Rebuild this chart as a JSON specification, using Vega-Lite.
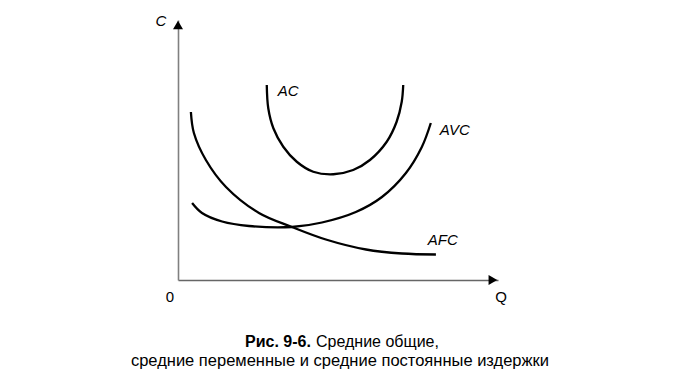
{
  "$schema": "https://vega.github.io/schema/vega-lite/v6.json",
  "width": 320,
  "height": 260,
  "autosize": "none",
  "padding": {"left": 178, "top": 20, "right": 179, "bottom": 109},
  "background": "white",
  "config": {"view": {"stroke": null}, "font": "Liberation Sans"},
  "datasets": {
    "curves": [
      {"series": "AC", "q": 2.96, "c": 7.8},
      {"series": "AC", "q": 3.01, "c": 6.87},
      {"series": "AC", "q": 3.18, "c": 6.07},
      {"series": "AC", "q": 3.51, "c": 5.33},
      {"series": "AC", "q": 3.96, "c": 4.73},
      {"series": "AC", "q": 4.51, "c": 4.33},
      {"series": "AC", "q": 5.18, "c": 4.23},
      {"series": "AC", "q": 5.84, "c": 4.4},
      {"series": "AC", "q": 6.4, "c": 4.8},
      {"series": "AC", "q": 6.96, "c": 5.53},
      {"series": "AC", "q": 7.29, "c": 6.33},
      {"series": "AC", "q": 7.46, "c": 7.13},
      {"series": "AC", "q": 7.51, "c": 7.8},
      {"series": "AVC", "q": 0.47, "c": 3.08},
      {"series": "AVC", "q": 0.8, "c": 2.68},
      {"series": "AVC", "q": 1.47, "c": 2.34},
      {"series": "AVC", "q": 2.37, "c": 2.16},
      {"series": "AVC", "q": 3.8, "c": 2.12},
      {"series": "AVC", "q": 4.8, "c": 2.3},
      {"series": "AVC", "q": 5.93, "c": 2.72},
      {"series": "AVC", "q": 6.8, "c": 3.32},
      {"series": "AVC", "q": 7.6, "c": 4.28},
      {"series": "AVC", "q": 8.13, "c": 5.32},
      {"series": "AVC", "q": 8.43, "c": 6.28},
      {"series": "AFC", "q": 0.43, "c": 6.72},
      {"series": "AFC", "q": 0.53, "c": 5.88},
      {"series": "AFC", "q": 0.93, "c": 4.8},
      {"series": "AFC", "q": 1.6, "c": 3.72},
      {"series": "AFC", "q": 2.7, "c": 2.68},
      {"series": "AFC", "q": 3.8, "c": 2.12},
      {"series": "AFC", "q": 4.93, "c": 1.62},
      {"series": "AFC", "q": 6.27, "c": 1.22},
      {"series": "AFC", "q": 7.47, "c": 1.06},
      {"series": "AFC", "q": 8.6, "c": 1.02}
    ],
    "curveLabels": [
      {"label": "AC", "q": 3.33, "c": 7.56},
      {"label": "AVC", "q": 8.73, "c": 6.0},
      {"label": "AFC", "q": 8.33, "c": 1.6}
    ],
    "axisLabels": [
      {"label": "C", "q": -0.57, "c": 10.36, "style": "italic"},
      {"label": "0", "q": -0.27, "c": -0.68, "style": "normal"},
      {"label": "Q", "q": 10.77, "c": -0.68, "style": "normal"}
    ],
    "arrows": [
      {"dir": "up", "q": 0, "c": 10.2},
      {"dir": "right", "q": 10.5, "c": 0}
    ],
    "caption": [
      {"text": "Рис. 9-6.", "q": 4.43, "c": -2.49, "weight": "bold"},
      {"text": "Средние общие,", "q": 4.6, "c": -2.49, "weight": "normal"},
      {"text": "средние переменные и средние постоянные издержки", "q": 5.4, "c": -3.22, "weight": "normal"}
    ]
  },
  "layer": [
    {
      "data": {"name": "curves"},
      "mark": {"type": "line", "interpolate": "catmull-rom", "color": "black", "strokeWidth": 2.3},
      "encoding": {
        "x": {"field": "q", "type": "quantitative", "scale": {"domain": [0, 10.67], "nice": false, "zero": false},
          "axis": {"domainColor": "#666666", "domainWidth": 1.6, "ticks": false, "labels": false, "grid": false, "title": null}},
        "y": {"field": "c", "type": "quantitative", "scale": {"domain": [0, 10.4], "nice": false, "zero": false},
          "axis": {"domainColor": "#808080", "domainWidth": 1.6, "ticks": false, "labels": false, "grid": false, "title": null}},
        "detail": {"field": "series"},
        "order": {"field": "q", "type": "quantitative"}
      }
    },
    {
      "data": {"name": "arrows"},
      "transform": [{"filter": "datum.dir === 'up'"}],
      "mark": {"type": "point", "shape": "triangle-up", "filled": true, "color": "black", "size": 100, "opacity": 1},
      "encoding": {
        "x": {"field": "q", "type": "quantitative"},
        "y": {"field": "c", "type": "quantitative"}
      }
    },
    {
      "data": {"name": "arrows"},
      "transform": [{"filter": "datum.dir === 'right'"}],
      "mark": {"type": "point", "shape": "triangle-right", "filled": true, "color": "black", "size": 100, "opacity": 1},
      "encoding": {
        "x": {"field": "q", "type": "quantitative"},
        "y": {"field": "c", "type": "quantitative"}
      }
    },
    {
      "data": {"name": "curveLabels"},
      "mark": {"type": "text", "fontStyle": "italic", "fontSize": 15, "align": "left", "baseline": "middle", "color": "black"},
      "encoding": {
        "x": {"field": "q", "type": "quantitative"},
        "y": {"field": "c", "type": "quantitative"},
        "text": {"field": "label"}
      }
    },
    {
      "data": {"name": "axisLabels"},
      "transform": [{"filter": "datum.style === 'italic'"}],
      "mark": {"type": "text", "fontStyle": "italic", "fontSize": 15, "align": "center", "baseline": "middle", "color": "black"},
      "encoding": {
        "x": {"field": "q", "type": "quantitative"},
        "y": {"field": "c", "type": "quantitative"},
        "text": {"field": "label"}
      }
    },
    {
      "data": {"name": "axisLabels"},
      "transform": [{"filter": "datum.style === 'normal'"}],
      "mark": {"type": "text", "fontSize": 15, "align": "center", "baseline": "middle", "color": "black"},
      "encoding": {
        "x": {"field": "q", "type": "quantitative"},
        "y": {"field": "c", "type": "quantitative"},
        "text": {"field": "label"}
      }
    },
    {
      "data": {"name": "caption"},
      "transform": [{"filter": "datum.weight === 'bold'"}],
      "mark": {"type": "text", "fontSize": 16, "fontWeight": "bold", "align": "right", "baseline": "middle", "color": "black"},
      "encoding": {
        "x": {"field": "q", "type": "quantitative"},
        "y": {"field": "c", "type": "quantitative"},
        "text": {"field": "text"}
      }
    },
    {
      "data": {"name": "caption"},
      "transform": [{"filter": "datum.weight === 'normal' && datum.c > -3"}],
      "mark": {"type": "text", "fontSize": 16, "align": "left", "baseline": "middle", "color": "black"},
      "encoding": {
        "x": {"field": "q", "type": "quantitative"},
        "y": {"field": "c", "type": "quantitative"},
        "text": {"field": "text"}
      }
    },
    {
      "data": {"name": "caption"},
      "transform": [{"filter": "datum.c < -3"}],
      "mark": {"type": "text", "fontSize": 16.5, "align": "center", "baseline": "middle", "color": "black"},
      "encoding": {
        "x": {"field": "q", "type": "quantitative"},
        "y": {"field": "c", "type": "quantitative"},
        "text": {"field": "text"}
      }
    }
  ]
}
